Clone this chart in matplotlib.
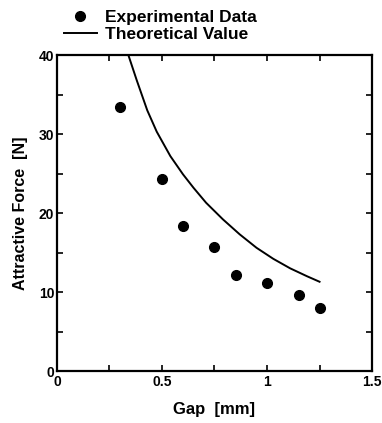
import matplotlib.pyplot as plt
from matplotlib.ticker import MultipleLocator, FuncFormatter
from matplotlib.lines import Line2D

plt.rcParams['font.family'] = ['Liberation Sans', 'DejaVu Sans']
plt.rcParams['font.weight'] = 'bold'

# measured points
gap_exp = [0.30, 0.50, 0.60, 0.75, 0.85, 1.00, 1.15, 1.25]
force_exp = [33.4, 24.3, 18.3, 15.7, 12.2, 11.1, 9.6, 8.0]

# theoretical curve
gap_th = [0.34, 0.38, 0.43, 0.475, 0.54, 0.60, 0.65, 0.71, 0.79, 0.87,
          0.95, 1.03, 1.11, 1.19, 1.25]
force_th = [40.0, 36.8, 33.0, 30.3, 27.2, 24.9, 23.2, 21.3, 19.2, 17.3,
            15.6, 14.2, 13.0, 12.0, 11.3]

fig = plt.figure(figsize=(3.82, 4.23), dpi=100)
ax = fig.add_axes([0.149, 0.1229, 0.825, 0.747])

ax.plot(gap_th, force_th, color='black', lw=1.4)
ax.plot(gap_exp, force_exp, 'o', color='black', ms=7)

ax.set_xlim(0, 1.5)
ax.set_ylim(0, 40)
ax.xaxis.set_major_locator(MultipleLocator(0.5))
ax.xaxis.set_minor_locator(MultipleLocator(0.25))
ax.yaxis.set_major_locator(MultipleLocator(10))
ax.yaxis.set_minor_locator(MultipleLocator(5))
ax.xaxis.set_major_formatter(FuncFormatter(lambda v, p: f'{v:g}'))
ax.tick_params(which='both', direction='in', top=True, right=True,
               labelsize=10, width=1.2, length=4)
ax.tick_params(axis='x', pad=3)
ax.tick_params(axis='y', pad=2)
for s in ax.spines.values():
    s.set_linewidth(1.6)

ax.set_xlabel('Gap  [mm]', fontsize=12, fontweight='bold', labelpad=9)
ax.set_ylabel('Attractive Force  [N]', fontsize=11.5, fontweight='bold', labelpad=8)

handles = [Line2D([], [], ls='none', marker='o', color='black', ms=7),
           Line2D([], [], color='black', lw=1.4)]
fig.legend(handles, ['Experimental Data', 'Theoretical Value'],
           loc='upper left', bbox_to_anchor=(0.135, 1.005), frameon=False,
           fontsize=12.5, handlelength=1.9, handletextpad=0.5,
           labelspacing=0.08, borderpad=0.2)

fig.savefig('out.png', dpi=100)
